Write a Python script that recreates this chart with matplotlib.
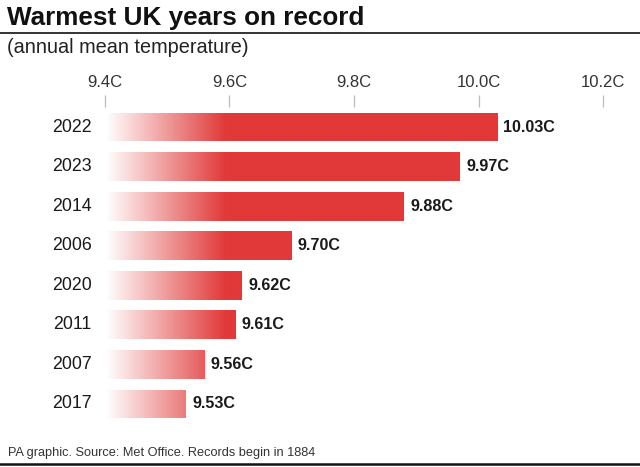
import matplotlib
matplotlib.use("Agg")
import matplotlib.pyplot as plt
import numpy as np
from matplotlib.lines import Line2D
from matplotlib.colors import LinearSegmentedColormap

years = ["2022", "2023", "2014", "2006", "2020", "2011", "2007", "2017"]
temps = [10.03, 9.97, 9.88, 9.70, 9.62, 9.61, 9.56, 9.53]
ticks = [9.4, 9.6, 9.8, 10.0, 10.2]
tick_labels = ["9.4C", "9.6C", "9.8C", "10.0C", "10.2C"]

FONT = "Liberation Sans"
W, H = 640, 467

plt.rcParams["font.family"] = [FONT, "DejaVu Sans"]

fig = plt.figure(figsize=(W / 100, H / 100), dpi=100)
fig.patch.set_facecolor("white")

# axes: x 9.4..10.2 -> px 105..603, rows centred from y=127 to y=404
step = (404 - 127) / 7
top_px, bot_px = 127 - step / 2, 404 + step / 2
ax = fig.add_axes([105 / W, 1 - bot_px / H, (603 - 105) / W, (bot_px - top_px) / H])

# gradient: white at 9.4 fading up to full red by ~9.59
cmap = LinearSegmentedColormap.from_list("fade", [(0, (0.886, 0.227, 0.227, 0.0)),
                                                  (0.24, (0.886, 0.227, 0.227, 1.0)),
                                                  (1, (0.886, 0.227, 0.227, 1.0))])
grad = np.linspace(0, 1, 512).reshape(1, -1)

ypos = np.arange(len(years))
bars = ax.barh(ypos, [t - 9.4 for t in temps], left=9.4, height=0.73,
               facecolor="none", edgecolor="none")
for b, t, y in zip(bars, temps, ypos):
    im = ax.imshow(grad, cmap=cmap, aspect="auto", extent=(9.4, 10.2, 7.5, -0.5),
                   interpolation="bilinear", zorder=2)
    im.set_clip_path(b)
    ax.annotate(f"{t:.2f}C", (t, y), xytext=(4.5, 0), textcoords="offset points",
                va="center", ha="left", fontsize=11.6, fontweight="bold", color="#1a1a1a")
    ax.annotate(years[y], (9.4, y), xytext=(-9.5, 0), textcoords="offset points",
                va="center", ha="right", fontsize=12.8, color="#1a1a1a")

ax.set_xlim(9.4, 10.2)
ax.set_ylim(7.5, -0.5)
ax.set_yticks([])
ax.xaxis.tick_top()
ax.set_xticks(ticks)
ax.set_xticklabels(tick_labels, fontsize=12, color="#333333")
ax.tick_params(axis="x", length=8.5, width=0.9, color="#bbbbbb", pad=4, direction="out")
for s in ax.spines.values():
    s.set_visible(False)
ax.patch.set_alpha(0)

# title, subtitle, rules, source
fig.text(7 / W, 1 - 25 / H, "Warmest UK years on record", fontsize=18.8, fontweight="bold",
         ha="left", va="baseline", color="#111111")
fig.add_artist(Line2D([0, 1], [1 - 32.5 / H] * 2, color="#111111", lw=1.2))
fig.text(7 / W, 1 - 53 / H, "(annual mean temperature)", fontsize=14.3,
         ha="left", va="baseline", color="#222222")
fig.text(8 / W, 1 - 456 / H, "PA graphic. Source: Met Office. Records begin in 1884", fontsize=9.2,
         ha="left", va="baseline", color="#333333")
fig.add_artist(Line2D([0, 1], [1 - 464 / H] * 2, color="#111111", lw=1.8))

fig.savefig("out.png", dpi=100, facecolor="white")
plt.close()
